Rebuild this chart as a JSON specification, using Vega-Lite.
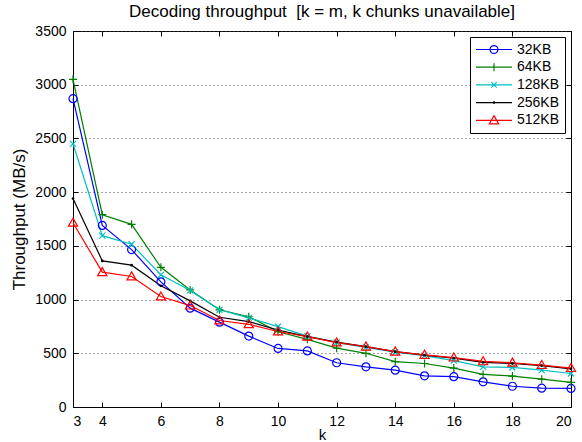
{
  "$schema": "https://vega.github.io/schema/vega-lite/v6.json",
  "width": 498,
  "height": 376,
  "autosize": {"type": "none"},
  "padding": {"left": 73, "top": 31, "right": 11, "bottom": 35},
  "background": "white",
  "title": {
    "text": "Decoding throughput \u00a0[k = m, k chunks unavailable]",
    "font": "Liberation Sans",
    "fontSize": 17,
    "fontWeight": "normal",
    "color": "black",
    "offset": 3.5,
    "anchor": "middle"
  },
  "config": {
    "view": {"stroke": "black", "strokeWidth": 1},
    "axis": {
      "labelFont": "Liberation Sans",
      "labelFontSize": 14,
      "labelColor": "black",
      "titleFont": "Liberation Sans",
      "titleFontSize": 17,
      "titleFontWeight": "normal",
      "titleColor": "black",
      "tickColor": "black",
      "domainColor": "black",
      "tickSize": -5,
      "labelPadding": 12
    }
  },
  "data": {
    "values": [
      {"k": 3, "series": "32KB", "v": 2870}, {"k": 3, "series": "64KB", "v": 3050}, {"k": 3, "series": "128KB", "v": 2450}, {"k": 3, "series": "256KB", "v": 1940}, {"k": 3, "series": "512KB", "v": 1715},
      {"k": 4, "series": "32KB", "v": 1690}, {"k": 4, "series": "64KB", "v": 1790}, {"k": 4, "series": "128KB", "v": 1595}, {"k": 4, "series": "256KB", "v": 1360}, {"k": 4, "series": "512KB", "v": 1255},
      {"k": 5, "series": "32KB", "v": 1465}, {"k": 5, "series": "64KB", "v": 1700}, {"k": 5, "series": "128KB", "v": 1515}, {"k": 5, "series": "256KB", "v": 1320}, {"k": 5, "series": "512KB", "v": 1215},
      {"k": 6, "series": "32KB", "v": 1165}, {"k": 6, "series": "64KB", "v": 1300}, {"k": 6, "series": "128KB", "v": 1230}, {"k": 6, "series": "256KB", "v": 1128}, {"k": 6, "series": "512KB", "v": 1028},
      {"k": 7, "series": "32KB", "v": 920}, {"k": 7, "series": "64KB", "v": 1090}, {"k": 7, "series": "128KB", "v": 1085}, {"k": 7, "series": "256KB", "v": 988}, {"k": 7, "series": "512KB", "v": 944},
      {"k": 8, "series": "32KB", "v": 790}, {"k": 8, "series": "64KB", "v": 905}, {"k": 8, "series": "128KB", "v": 905}, {"k": 8, "series": "256KB", "v": 835}, {"k": 8, "series": "512KB", "v": 805},
      {"k": 9, "series": "32KB", "v": 660}, {"k": 9, "series": "64KB", "v": 840}, {"k": 9, "series": "128KB", "v": 830}, {"k": 9, "series": "256KB", "v": 795}, {"k": 9, "series": "512KB", "v": 770},
      {"k": 10, "series": "32KB", "v": 545}, {"k": 10, "series": "64KB", "v": 700}, {"k": 10, "series": "128KB", "v": 748}, {"k": 10, "series": "256KB", "v": 717}, {"k": 10, "series": "512KB", "v": 703},
      {"k": 11, "series": "32KB", "v": 522}, {"k": 11, "series": "64KB", "v": 630}, {"k": 11, "series": "128KB", "v": 660}, {"k": 11, "series": "256KB", "v": 655}, {"k": 11, "series": "512KB", "v": 655},
      {"k": 12, "series": "32KB", "v": 412}, {"k": 12, "series": "64KB", "v": 548}, {"k": 12, "series": "128KB", "v": 600}, {"k": 12, "series": "256KB", "v": 605}, {"k": 12, "series": "512KB", "v": 600},
      {"k": 13, "series": "32KB", "v": 374}, {"k": 13, "series": "64KB", "v": 500}, {"k": 13, "series": "128KB", "v": 555}, {"k": 13, "series": "256KB", "v": 562}, {"k": 13, "series": "512KB", "v": 562},
      {"k": 14, "series": "32KB", "v": 343}, {"k": 14, "series": "64KB", "v": 422}, {"k": 14, "series": "128KB", "v": 510}, {"k": 14, "series": "256KB", "v": 515}, {"k": 14, "series": "512KB", "v": 515},
      {"k": 15, "series": "32KB", "v": 290}, {"k": 15, "series": "64KB", "v": 405}, {"k": 15, "series": "128KB", "v": 478}, {"k": 15, "series": "256KB", "v": 482}, {"k": 15, "series": "512KB", "v": 485},
      {"k": 16, "series": "32KB", "v": 282}, {"k": 16, "series": "64KB", "v": 362}, {"k": 16, "series": "128KB", "v": 432}, {"k": 16, "series": "256KB", "v": 455}, {"k": 16, "series": "512KB", "v": 460},
      {"k": 17, "series": "32KB", "v": 234}, {"k": 17, "series": "64KB", "v": 303}, {"k": 17, "series": "128KB", "v": 374}, {"k": 17, "series": "256KB", "v": 415}, {"k": 17, "series": "512KB", "v": 425},
      {"k": 18, "series": "32KB", "v": 193}, {"k": 18, "series": "64KB", "v": 288}, {"k": 18, "series": "128KB", "v": 368}, {"k": 18, "series": "256KB", "v": 405}, {"k": 18, "series": "512KB", "v": 412},
      {"k": 19, "series": "32KB", "v": 175}, {"k": 19, "series": "64KB", "v": 259}, {"k": 19, "series": "128KB", "v": 343}, {"k": 19, "series": "256KB", "v": 385}, {"k": 19, "series": "512KB", "v": 390},
      {"k": 20, "series": "32KB", "v": 173}, {"k": 20, "series": "64KB", "v": 230}, {"k": 20, "series": "128KB", "v": 312}, {"k": 20, "series": "256KB", "v": 355}, {"k": 20, "series": "512KB", "v": 362}
    ]
  },
  "layer": [
    {
      "mark": {"type": "line", "strokeWidth": 1.2},
      "encoding": {
        "x": {
          "field": "k", "type": "quantitative",
          "scale": {"domain": [3, 20], "nice": false, "zero": false},
          "axis": {"orient": "bottom", "title": "k", "values": [3, 4, 6, 8, 10, 12, 14, 16, 18, 20], "grid": false, "titlePadding": -1, "titleFontSize": 15}
        },
        "y": {
          "field": "v", "type": "quantitative",
          "scale": {"domain": [0, 3500], "nice": false},
          "axis": {"orient": "left", "title": "Throughput (MB/s)", "format": "d", "values": [0, 500, 1000, 1500, 2000, 2500, 3000, 3500], "grid": true, "gridColor": "#444", "gridDash": [1, 3], "gridWidth": 1, "titlePadding": 6}
        },
        "color": {
          "field": "series", "type": "nominal",
          "scale": {"domain": ["32KB", "64KB", "128KB", "256KB", "512KB"], "range": ["#0000FF", "#008000", "#00BFBF", "#000000", "#FF0000"]},
          "legend": {
            "title": null,
            "orient": "top-right",
            "offset": 6,
            "strokeColor": "black",
            "fillColor": "white",
            "padding": 5,
            "rowPadding": 2.7,
            "clipHeight": 15,
            "labelOffset": 4,
            "labelFont": "Liberation Sans",
            "labelFontSize": 14,
            "labelColor": "black",
            "symbolSize": 1296,
            "symbolStrokeWidth": 1.2,
            "encode": {
              "symbols": {
                "update": {
                  "shape": {"signal": "datum.value === '32KB' ? 'M-1,0L1,0M0.22,0A0.22,0.22 0 1,1 -0.22,0A0.22,0.22 0 1,1 0.22,0' : datum.value === '64KB' ? 'M-1,0L1,0M0,-0.22L0,0.22' : datum.value === '128KB' ? 'M-1,0L1,0M-0.15,-0.15L0.15,0.15M-0.15,0.15L0.15,-0.15' : datum.value === '256KB' ? 'M-1,0L1,0M0.04,0A0.04,0.04 0 1,1 -0.04,0A0.04,0.04 0 1,1 0.04,0' : 'M-1,0L1,0M0,-0.26L0.26,0.2L-0.26,0.2Z'"},
                  "fill": {"value": "transparent"},
                  "strokeWidth": {"value": 1.2}
                }
              }
            }
          }
        }
      }
    },
    {
      "mark": {"type": "point", "filled": false, "strokeWidth": 1.2, "opacity": 1, "size": 64},
      "encoding": {
        "x": {
          "field": "k", "type": "quantitative",
          "axis": {"orient": "top", "title": null, "labels": false, "values": [3, 4, 6, 8, 10, 12, 14, 16, 18, 20], "grid": false, "domain": false}
        },
        "y": {
          "field": "v", "type": "quantitative",
          "axis": {"orient": "right", "title": null, "labels": false, "values": [0, 500, 1000, 1500, 2000, 2500, 3000, 3500], "grid": false, "domain": false}
        },
        "color": {
          "field": "series", "type": "nominal",
          "legend": {
            "title": null,
            "orient": "top-right",
            "offset": 6,
            "strokeColor": "black",
            "fillColor": "white",
            "padding": 5,
            "rowPadding": 2.7,
            "clipHeight": 15,
            "labelOffset": 4,
            "labelFont": "Liberation Sans",
            "labelFontSize": 14,
            "labelColor": "black",
            "symbolSize": 1296,
            "symbolStrokeWidth": 1.2,
            "encode": {
              "symbols": {
                "update": {
                  "shape": {"signal": "datum.value === '32KB' ? 'M-1,0L1,0M0.22,0A0.22,0.22 0 1,1 -0.22,0A0.22,0.22 0 1,1 0.22,0' : datum.value === '64KB' ? 'M-1,0L1,0M0,-0.22L0,0.22' : datum.value === '128KB' ? 'M-1,0L1,0M-0.15,-0.15L0.15,0.15M-0.15,0.15L0.15,-0.15' : datum.value === '256KB' ? 'M-1,0L1,0M0.04,0A0.04,0.04 0 1,1 -0.04,0A0.04,0.04 0 1,1 0.04,0' : 'M-1,0L1,0M0,-0.26L0.26,0.2L-0.26,0.2Z'"},
                  "fill": {"value": "transparent"},
                  "strokeWidth": {"value": 1.2}
                }
              }
            }
          }
        },
        "shape": {
          "field": "series", "type": "nominal",
          "scale": {"domain": ["512KB", "256KB", "128KB", "64KB", "32KB"], "range": ["M0,-1.15L1.15,0.85L-1.15,0.85Z", "M0.2,0A0.2,0.2 0 1,1 -0.2,0A0.2,0.2 0 1,1 0.2,0", "M-0.75,-0.75L0.75,0.75M-0.75,0.75L0.75,-0.75", "M-1,0L1,0M0,-1L0,1", "M1,0A1,1 0 1,1 -1,0A1,1 0 1,1 1,0"]},
          "legend": null
        }
      }
    }
  ]
}
